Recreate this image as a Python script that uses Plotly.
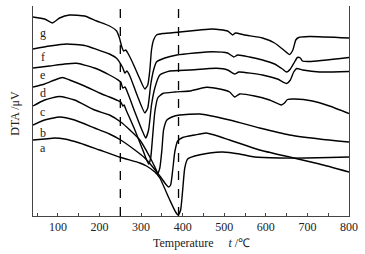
import plotly.graph_objects as go

# Temperature (°C) and DTA signal (arbitrary µV units, offset curves)
T_g = [40, 68, 87, 104, 128, 164, 193, 224, 241, 248, 253, 258, 263, 268, 280, 296, 309, 316, 321, 325, 330, 337, 352, 393, 441, 472, 508, 520, 527, 549, 592, 621, 643, 657, 665, 672, 679, 705, 800]
v_g = [199, 197, 193, 198, 201, 200, 195, 190, 185, 178, 170, 165, 166, 163, 153, 138, 127, 131, 146, 166, 176, 181, 182.5, 184, 186, 187, 185, 181, 183, 181, 178, 173, 166, 161.5, 166, 176, 178.5, 179.5, 178]

T_f = [40, 80, 121, 164, 193, 224, 241, 251, 256, 261, 266, 273, 292, 309, 316, 323, 330, 337, 357, 386, 429, 472, 508, 523, 532, 561, 592, 621, 640, 650, 659, 669, 676, 683, 688, 705, 800]
v_f = [167, 170, 172, 170.5, 166.7, 162, 157.7, 152, 148, 143, 145, 140, 119, 103, 108, 131, 146, 154, 158, 161, 163, 164.3, 163, 159, 161, 159, 156, 152, 147, 144, 147, 154, 158.5, 158, 155, 154.5, 158.5]

T_e = [40, 80, 116, 145, 188, 224, 241, 251, 256, 261, 266, 285, 302, 311, 318, 325, 333, 345, 369, 417, 481, 508, 525, 535, 592, 628, 650, 659, 667, 674, 689, 729, 800]
v_e = [148, 150, 152, 152.7, 148, 141, 137, 134, 128, 129, 125, 104, 86, 78, 86, 111, 128, 141, 145, 146, 147.7, 146, 142, 144, 141, 137, 132.5, 136, 144, 147.5, 146, 144, 144.5]

T_d = [40, 68, 92, 111, 128, 164, 200, 224, 241, 251, 256, 259, 264, 285, 304, 318, 323, 328, 333, 340, 352, 381, 417, 457, 489, 513, 525, 537, 573, 609, 637, 645, 652, 669, 712, 753, 800]
v_d = [129, 132, 136, 138.5, 136, 130, 123, 119, 116, 114, 110, 111, 106, 86, 66, 52, 58, 81, 104, 118, 122.5, 124, 125, 128.7, 127, 124, 119, 122, 120, 116, 111, 113, 116.5, 117, 115, 110, 102.5]

T_c = [40, 68, 104, 140, 188, 224, 251, 273, 297, 321, 333, 340, 345, 350, 354, 362, 374, 393, 441, 513, 585, 657, 729, 800]
v_c = [110, 116, 119.5, 116, 106, 101, 94, 86, 76, 59, 49, 43, 48, 66, 86, 96, 99, 101, 102, 96, 88, 81, 77, 74]

T_b = [40, 68, 104, 140, 188, 224, 251, 285, 309, 326, 345, 359, 366, 371, 376, 381, 388, 400, 429, 457, 513, 585, 657, 729, 800]
v_b = [91, 96, 99, 96, 88, 82, 76, 66, 58, 50, 40, 32, 29, 31, 46, 64, 75, 78.5, 81, 83, 76, 66, 59, 52, 44]

T_a = [40, 68, 92, 116, 152, 200, 251, 297, 313, 333, 345, 369, 383, 389, 395, 400, 405, 412, 429, 465, 496, 537, 573, 633, 698, 753, 800]
v_a = [76, 77, 78, 77, 73, 66, 58.5, 53, 50, 44, 38, 16, 4, 1, 6, 26, 48, 57, 60, 63, 64, 62, 59, 58, 58, 58.5, 59]

curve_names = ["a", "b", "c", "d", "e", "f", "g"]
label_T = [63, 63, 63, 63, 63, 63, 63]
label_v = [68, 83, 104, 123, 141, 159, 183]
dashed_T = [250, 390]
tick_vals = [100, 200, 300, 400, 500, 600, 700, 800]

series = [(T_a, v_a), (T_b, v_b), (T_c, v_c), (T_d, v_d), (T_e, v_e), (T_f, v_f), (T_g, v_g)]

FONT = "Liberation Serif"
fig = go.Figure()
for name, (T, v) in zip(curve_names, series):
    fig.add_trace(go.Scatter(x=T, y=v, mode="lines", name=name,
                             line=dict(color="black", width=1.4, shape="spline", smoothing=0.5),
                             showlegend=False, hoverinfo="skip"))

for t in dashed_T:
    fig.add_shape(type="line", x0=t, x1=t, y0=0, y1=1, xref="x", yref="paper",
                  line=dict(color="black", width=1.3, dash="dash"))

for name, tx, ty in zip(curve_names, label_T, label_v):
    fig.add_annotation(x=tx, y=ty, text=name, showarrow=False,
                       font=dict(family=FONT, size=12, color="#222"))

fig.add_annotation(x=0.534, y=-0.13, xref="paper", yref="paper", showarrow=False,
                   text="Temperature&nbsp;&nbsp;&nbsp;&nbsp;&nbsp;<i>t</i> /℃",
                   font=dict(family=FONT, size=12, color="#222"), yanchor="middle")
fig.add_annotation(x=-0.058, y=0.49, xref="paper", yref="paper", showarrow=False,
                   text="DTA /μV", textangle=-90,
                   font=dict(family=FONT, size=12, color="#222"), xanchor="center", yanchor="middle")

fig.update_layout(
    width=365, height=254,
    margin=dict(l=33, r=16, t=6, b=38),
    paper_bgcolor="white", plot_bgcolor="white",
    font=dict(family=FONT, size=12, color="#222"),
)
fig.update_xaxes(range=[40, 800], tickvals=tick_vals, ticks="inside", ticklen=3,
                 tickcolor="#444", showline=True, linecolor="#444", linewidth=1,
                 showgrid=False, zeroline=False, mirror=False,
                 minor=dict(dtick=50, tick0=0, ticks="inside", ticklen=3, tickcolor="#444"),
                 tickfont=dict(family=FONT, size=12, color="#222"))
fig.update_yaxes(range=[0, 210], showticklabels=False, ticks="", showline=True,
                 linecolor="#444", linewidth=1, mirror=True, showgrid=False, zeroline=False)

fig.write_html("out.html", config={"displayModeBar": False},
               post_script="document.body.style.margin='0';document.body.style.padding='0';document.body.style.overflow='hidden';")
